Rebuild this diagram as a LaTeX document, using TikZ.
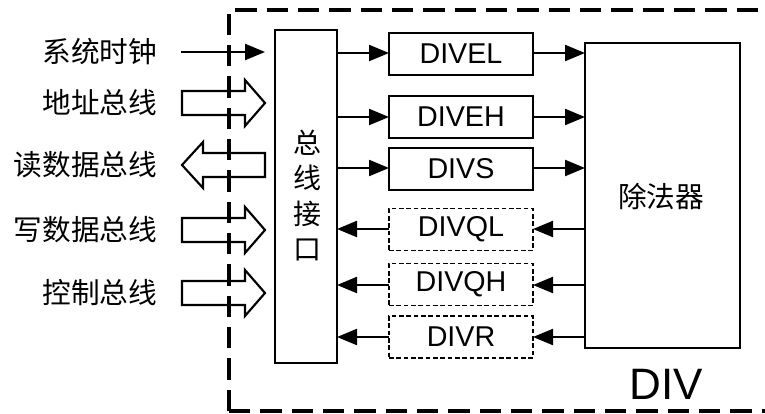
\documentclass[tikz,border=0pt]{standalone}
\usepackage{fontspec}
\setmainfont{Liberation Sans}
\newfontfamily\cjk{Noto Sans CJK SC}
\usetikzlibrary{arrows.meta}
\begin{document}
\begin{tikzpicture}[x=0.75pt,y=-0.75pt,
  every node/.style={inner sep=0pt,outer sep=0pt},
  cnlabel/.style={font=\cjk\fontsize{21.5}{23}\selectfont,anchor=east},
  reg/.style={draw,line width=0.9pt,minimum width=108pt,minimum height=31.5pt,font=\fontsize{21.5}{23}\selectfont},
  dreg/.style={reg,dash pattern=on 3.5pt off 2pt},
  conn/.style={line width=1.6pt,-{Triangle[length=15pt,width=12pt]}},
  hollow/.style={draw,line width=1.6pt,line join=miter,fill=white},
  outer/.style={line width=2.6pt,dash pattern=on 16pt off 7.5pt}
]
\useasboundingbox (0,0) rectangle (765,414);
% outer dashed boundary
\draw[outer] (229,411) -- (229,10) -- (770,10);
\draw[outer] (229,411) -- (770,411);
% bus interface
\node[draw,line width=0.8pt,minimum width=46.5pt,minimum height=249.75pt] (bus) at (306,196.5) {};
\node[font=\cjk\fontsize{21}{23}\selectfont] (t1) at (307,143) {总};
\node[font=\cjk\fontsize{21}{23}\selectfont] (t2) at (307,178) {线};
\node[font=\cjk\fontsize{21}{23}\selectfont] (t3) at (307,214) {接};
\node[font=\cjk\fontsize{21}{23}\selectfont] (t4) at (307,250) {口};
% divider
\node[draw,line width=0.8pt,minimum width=116.25pt,minimum height=228.75pt] (div) at (662.5,195.5) {};
\node[font=\cjk\fontsize{21.5}{23}\selectfont] (divt) at (661,197) {除法器};
\node[font=\fontsize{33}{36}\selectfont] (divlabel) at (666,384) {DIV};
% registers
\node[reg] (divel) at (461,54) {DIVEL};
\node[reg] (diveh) at (461,117) {DIVEH};
\node[reg] (divs) at (461,169) {DIVS};
\node[dreg] (divql) at (461,229.5) {DIVQL};
\node[dreg] (divqh) at (461,284.5) {DIVQH};
\node[dreg] (divr) at (461,337) {DIVR};
% register connections
\foreach \r/\y in {divel/53,diveh/117,divs/168}{
  \draw[conn] (bus.east |- 0,\y) -- (\r.west |- 0,\y);
  \draw[conn] (\r.east |- 0,\y) -- (div.west |- 0,\y);
}
\foreach \r/\y in {divql/229,divqh/285,divr/337}{
  \draw[conn] (div.west |- 0,\y) -- (\r.east |- 0,\y);
  \draw[conn] (\r.west |- 0,\y) -- (bus.east |- 0,\y);
}
% left labels
\node[cnlabel] (clk) at (157,52) {系统时钟};
\node[cnlabel] (addr) at (157,103) {地址总线};
\node[cnlabel] (rd) at (157,165) {读数据总线};
\node[cnlabel] (wr) at (157,230) {写数据总线};
\node[cnlabel] (ctl) at (157,293) {控制总线};
% clock arrow
\coordinate (clks) at (181,52);
\coordinate (clke) at (265,52);
\draw[conn] (clks) -- (clke);
% hollow arrows (right pointing)
\foreach \y in {103,230,293}{
  \draw[hollow] (182,\y-12) -- (245,\y-12) -- (245,\y-23) -- (265,\y) -- (245,\y+23) -- (245,\y+12) -- (182,\y+12) -- cycle;
}
% hollow arrow (left pointing)
\draw[hollow] (265,153) -- (203,153) -- (203,142) -- (182,165) -- (203,188) -- (203,177) -- (265,177) -- cycle;
% dashed line passing over arrows
\draw[outer] (229,411) -- (229,10);
\end{tikzpicture}
\end{document}
